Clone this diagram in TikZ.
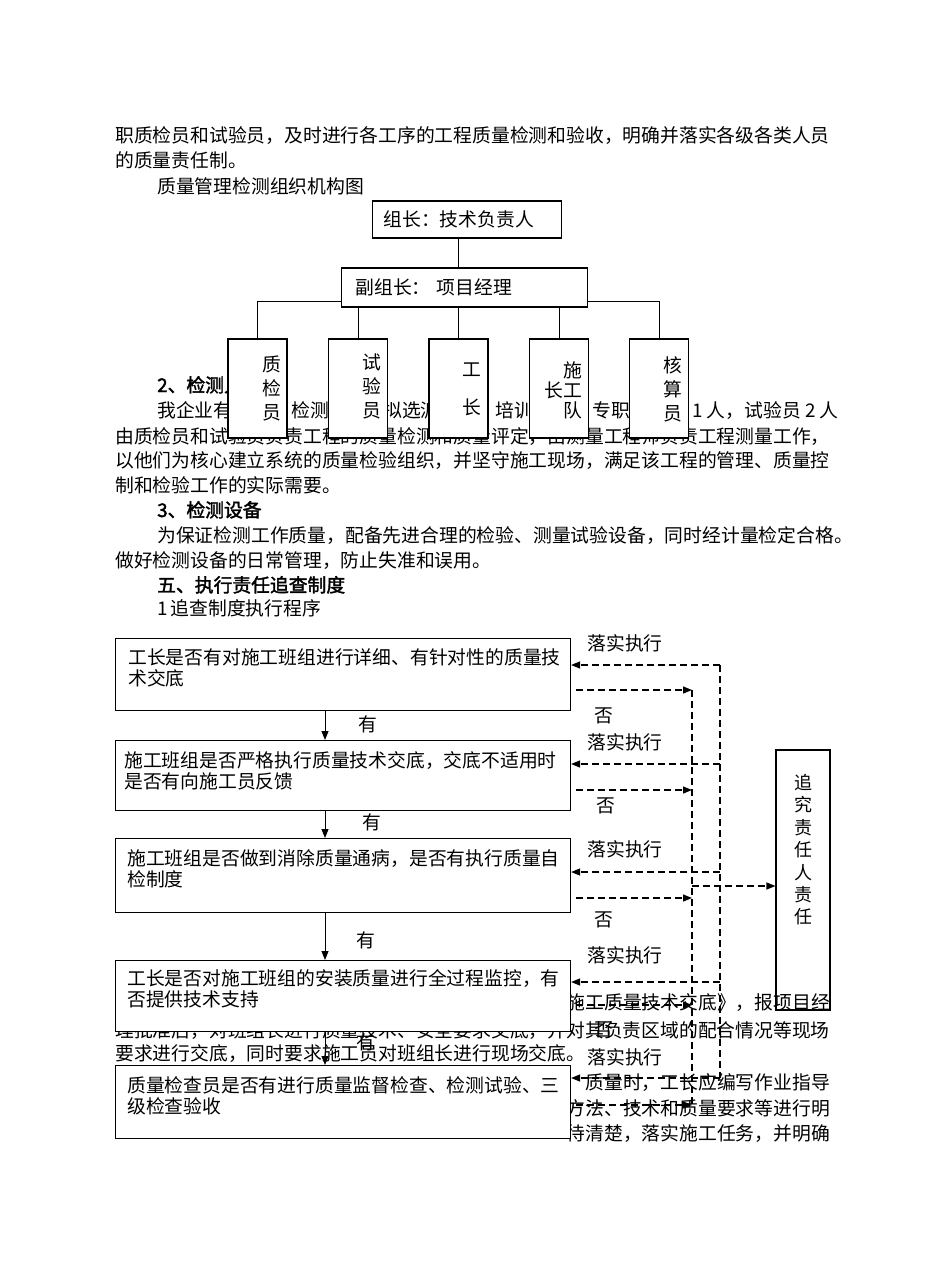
\documentclass[tikz,border=0pt]{standalone}
\usepackage{fontspec}
\setmainfont{Noto Sans CJK SC}[AutoFakeBold=2]
\usetikzlibrary{arrows.meta,positioning,calc}
\newcommand\bodytxt{\fontsize{18.8pt}{21pt}\selectfont}
\tikzset{
  txt/.style={anchor=base west, inner sep=0pt, font=\bodytxt},
  head/.style={txt, font=\bodytxt\bfseries},
  obox/.style={draw, fill=white, line width=1.1pt, anchor=west, inner xsep=11pt, align=left, font=\bodytxt},
  mbox/.style={draw, fill=white, line width=1.1pt, minimum width=59pt, minimum height=99pt, inner sep=0pt},
  mlab/.style={anchor=north east, align=right, inner sep=0pt, font=\fontsize{18.8pt}{24pt}\selectfont},
  fbox/.style={draw, fill=white, line width=1.1pt, anchor=north west, minimum width=455pt, inner sep=0pt},
  lbl/.style={inner sep=0pt, font=\bodytxt},
  arr/.style={-{Triangle[length=9pt,width=7pt]}, line width=1pt},
  dashln/.style={line width=1.2pt, dash pattern=on 7pt off 4pt},
  dasharr/.style={dashln, -{Triangle[length=9pt,width=7pt]}}}
\begin{document}
\begin{tikzpicture}[x=1pt,y=-1pt]
  \useasboundingbox[fill=white] (0,0) rectangle (950,1267);
  % page text
  \node[txt] (p1) at (115,142) {职质检员和试验员，及时进行各工序的工程质量检测和验收，明确并落实各级各类人员};
  \node[txt] (p2) at (115,167) {的质量责任制。};
  \node[txt] (p3) at (157,193) {质量管理检测组织机构图};
  \node[head] (h2) at (157,392) {2、检测人};
  \node[txt] (pa1) at (157,417) {我企业有};
  \node[txt] (pa2) at (291,417) {检测};
  \node[txt] (pa3) at (383,417) {拟选派};
  \node[txt] (pa4) at (495,417) {培训};
  \node[txt] (pa5) at (592,417) {专职};
  \node[txt] (pa6) at (692,417) {1 人，试验员 2 人};
  \node[txt] (pb) at (115,443) {由质检员和试验员负责工程的质量检测和质量评定，由测量工程师负责工程测量工作，};
  \node[txt] (pc) at (115,467) {以他们为核心建立系统的质量检验组织，并坚守施工现场，满足该工程的管理、质量控};
  \node[txt] (pd) at (115,492) {制和检验工作的实际需要。};
  \node[head] (h3) at (157,517) {3、检测设备};
  \node[txt] (pe) at (157,542) {为保证检测工作质量，配备先进合理的检验、测量试验设备，同时经计量检定合格。};
  \node[txt] (pf) at (115,567) {做好检测设备的日常管理，防止失准和误用。};
  \node[head] (h5) at (157,592) {五、执行责任追查制度};
  \node[txt] (pg) at (157,615) {1\,追查制度执行程序};
  \node[txt, anchor=base east] (q1) at (830,1009) {程施工质量技术交底》，报项目经};
  \node[txt] (q2) at (115,1037) {理批准后，对班组长进行质量技术、安全要求交底，并对其负责区域的配合情况等现场};
  \node[txt] (q3) at (115,1060) {要求进行交底，同时要求施工员对班组长进行现场交底。};
  \node[txt, anchor=base east] (q4) at (830,1089) {质量时，工长应编写作业指导};
  \node[txt, anchor=base east] (q5) at (830,1115) {方法、技术和质量要求等进行明};
  \node[txt, anchor=base east] (q6) at (830,1140) {待清楚，落实施工任务，并明确};

  % organisation chart
  \node[obox, text width=167pt, minimum height=37pt] (lead) at (372,219.5) {组长：技术负责人};
  \node[obox, text width=218pt, minimum height=39pt, inner xsep=14pt] (vice) at (341,287.5) {副组长：\hspace{6pt}项目经理};
  \node[mbox] (m1) at (257.5,388.5) {};
  \node[mbox] (m2) at (358,388.5) {};
  \node[mbox] (m3) at (458.5,388.5) {};
  \node[mbox] (m4) at (559,388.5) {};
  \node[mbox] (m5) at (659,388.5) {};
  \node[mlab] (m1t) at (281,356) {质\\检\\员};
  \node[mlab] (m2t) at (381,354) {试\\验\\员};
  \node[mlab] (m3t) at (481,363) {工\\[14pt]长};
  \node[mlab, font=\fontsize{18.8pt}{20pt}\selectfont] (m4t) at (582,361) {施\\长工\\队};
  \node[mlab] (m5t) at (682,356) {核\\算\\员};
  \coordinate (bus) at (0,301);
  \draw[line width=1pt] (lead.south -| m3.north) -- (vice.north -| m3.north);
  \draw[line width=1pt] (m1.north) |- (vice.west |- bus);
  \draw[line width=1pt] (m5.north) |- (vice.east |- bus);
  \draw[line width=1pt] (m2.north) -- (m2.north |- vice.south);
  \draw[line width=1pt] (m3.north) -- (m3.north |- vice.south);
  \draw[line width=1pt] (m4.north) -- (m4.north |- vice.south);

  % tracing procedure
  \node[fbox, minimum height=72pt] (f1) at (115,638) {};
  \node[fbox, minimum height=70pt] (f2) at (115,740) {};
  \node[fbox, minimum height=74pt] (f3) at (115,838) {};
  \node[fbox, minimum height=71pt] (f4) at (115,960) {};
  \node[fbox, minimum height=73pt] (f5) at (115,1065) {};
  \node[txt] (f1a) at (128,664) {工长是否有对施工班组进行详细、有针对性的质量技};
  \node[txt] (f1b) at (128,685) {术交底};
  \node[txt] (f2a) at (124,767) {施工班组是否严格执行质量技术交底，交底不适用时};
  \node[txt] (f2b) at (124,788) {是否有向施工员反馈};
  \node[txt] (f3a) at (127,865) {施工班组是否做到消除质量通病，是否有执行质量自};
  \node[txt] (f3b) at (127,886) {检制度};
  \node[txt] (f4a) at (127,985) {工长是否对施工班组的安装质量进行全过程监控，有};
  \node[txt] (f4b) at (127,1006) {否提供技术支持};
  \node[txt] (f5a) at (127,1092) {质量检查员是否有进行质量监督检查、检测试验、三};
  \node[txt] (f5b) at (127,1113) {级检查验收};
  \node[draw, line width=1.1pt, minimum width=54pt, minimum height=260pt, inner sep=0pt] (zbox) at (803,880) {};
  \node[anchor=north, align=center, inner sep=0pt, font=\fontsize{18pt}{22.4pt}\selectfont] (zbt) at (803,774) {追\\究\\责\\任\\人\\责\\任};

  \coordinate (ax) at (325,0);
  \draw[arr] (f1.south -| ax) -- (f2.north -| ax);
  \draw[arr] (f2.south -| ax) -- (f3.north -| ax);
  \draw[arr] (f3.south -| ax) -- (f4.north -| ax);
  \draw[arr] (f4.south -| ax) -- (f5.north -| ax);
  \node[lbl] (y1) at (368,724) {有};
  \node[lbl] (y2) at (372,822) {有};
  \node[lbl] (y3) at (366,940) {有};
  \node[lbl] (y4) at (366,1042) {有};

  \coordinate (b1) at (720,665);
  \coordinate (b2) at (720,764);
  \coordinate (b3) at (720,872);
  \coordinate (b4) at (720,982);
  \coordinate (b5) at (720,1078);
  \coordinate (n1) at (692,690);
  \coordinate (n2) at (692,790);
  \coordinate (n3) at (692,898);
  \coordinate (n4) at (692,1005);
  \coordinate (n5) at (692,1105);
  \coordinate (zj) at (692,886);
  \draw[dashln] (b1) -- (b5);
  \draw[dashln] (n1) -- (n5);
  \draw[dasharr] (b1) -- (f1.east |- b1);
  \draw[dasharr] (b2) -- (f2.east |- b2);
  \draw[dasharr] (b3) -- (f3.east |- b3);
  \draw[dasharr] (b4) -- (f4.east |- b4);
  \draw[dasharr] (b5) -- (f5.east |- b5);
  \draw[dasharr, shorten <=5pt] (f1.east |- n1) -- (n1);
  \draw[dasharr, shorten <=5pt] (f2.east |- n2) -- (n2);
  \draw[dasharr, shorten <=5pt] (f3.east |- n3) -- (n3);
  \draw[dasharr, shorten <=5pt] (f4.east |- n4) -- (n4);
  \draw[dasharr, shorten <=5pt] (f5.east |- n5) -- (n5);
  \draw[dasharr] (zj) -- (zbox.west |- zj);
  \node[lbl] (r1) at (625,643) {落实执行};
  \node[lbl] (r2) at (625,742) {落实执行};
  \node[lbl] (r3) at (625,849) {落实执行};
  \node[lbl] (r4) at (625,955) {落实执行};
  \node[lbl] (r5) at (625,1057) {落实执行};
  \node[lbl] (x1) at (604,716) {否};
  \node[lbl] (x2) at (606,806) {否};
  \node[lbl] (x3) at (604,920) {否};
  \node[lbl] (x4) at (604,1030) {否};
\end{tikzpicture}
\end{document}
